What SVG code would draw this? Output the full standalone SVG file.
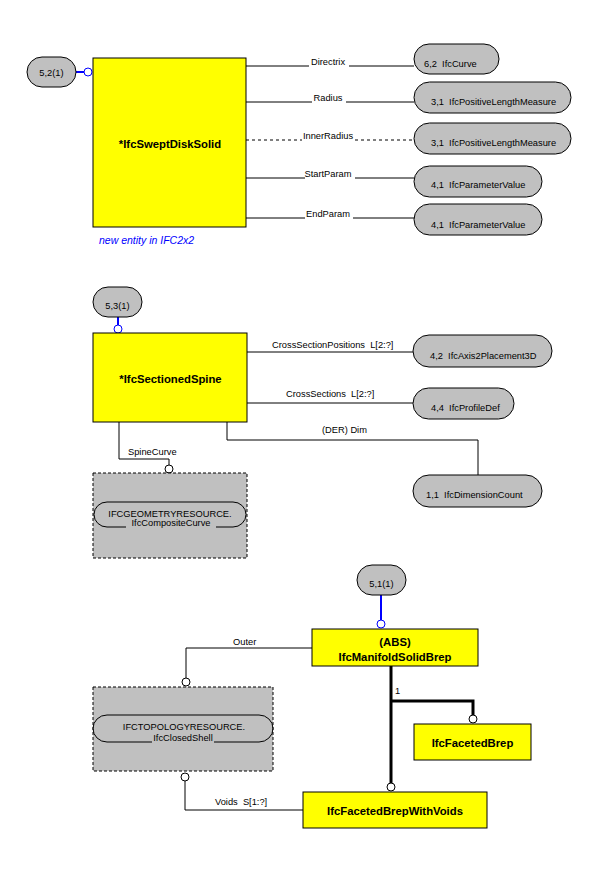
<svg xmlns="http://www.w3.org/2000/svg" width="600" height="888" viewBox="0 0 600 888">
<style>
text{font-family:"Liberation Sans",Arial,sans-serif;font-size:9.3px;fill:#000}
.b{font-weight:bold;font-size:11.3px}
.c{text-anchor:middle}
.pill{fill:#c0c0c0;stroke:#000;stroke-width:1}
.ent{fill:#ffff00;stroke:#000;stroke-width:1}
.ext{fill:#c0c0c0;stroke:#000;stroke-width:1;stroke-dasharray:3,2}
.ln{fill:none;stroke:#000;stroke-width:1}
.dash{stroke-dasharray:3,3}
.thick{fill:none;stroke:#000;stroke-width:3}
.blue{fill:none;stroke:#0000ff;stroke-width:2}
.oc{fill:#fff;stroke:#000;stroke-width:1}
.bc{fill:#fff;stroke:#0000ff;stroke-width:1}
</style>
<rect width="600" height="888" fill="#fff"/>

<g id="connectors">
  <!-- section 1 -->
  <line class="blue" x1="76" y1="72" x2="84" y2="72"/>
  <circle class="bc" cx="88" cy="72" r="4"/>
  <path class="ln" d="M246 66H309M349 66H414"/>
  <text x="328" y="65" class="c">Directrix</text>
  <path class="ln" d="M246 102H312M346 102H414"/>
  <text x="328" y="101" class="c">Radius</text>
  <path class="ln dash" d="M246 140H302M355 140H414"/>
  <text x="328" y="139" class="c">InnerRadius</text>
  <path class="ln" d="M246 178H305M355 178H414"/>
  <text x="328" y="177" class="c">StartParam</text>
  <path class="ln" d="M246 218H305M353 218H414"/>
  <text x="328" y="217" class="c">EndParam</text>

  <!-- section 2 -->
  <line class="blue" x1="118" y1="317" x2="118" y2="325"/>
  <circle class="bc" cx="118" cy="329" r="4"/>
  <path class="ln" d="M247 352H413"/>
  <text x="272" y="348" xml:space="preserve">CrossSectionPositions  L[2:?]</text>
  <path class="ln" d="M247 403H413"/>
  <text x="286" y="397" xml:space="preserve">CrossSections  L[2:?]</text>
  <path class="ln" d="M227 422V440H478V475"/>
  <text x="322" y="433">(DER) Dim</text>
  <path class="ln" d="M119 422V459H169V465"/>
  <circle class="oc" cx="169" cy="469" r="4"/>
  <text x="128" y="455">SpineCurve</text>

  <!-- section 3 -->
  <line class="blue" x1="381" y1="595" x2="381" y2="620"/>
  <circle class="bc" cx="381" cy="624" r="4"/>
  <path class="ln" d="M312 648H186V678"/>
  <circle class="oc" cx="186" cy="682" r="4"/>
  <text x="233" y="645">Outer</text>
  <path class="ln" d="M185 781V810H303"/>
  <circle class="oc" cx="185" cy="777" r="4"/>
  <text x="215" y="805" xml:space="preserve">Voids  S[1:?]</text>
  <path class="thick" d="M391 666V783"/>
  <path class="thick" d="M391 701H473V715"/>
  <circle class="oc" cx="391" cy="787" r="4"/>
  <circle class="oc" cx="473" cy="719" r="4"/>
  <text x="395" y="694">1</text>
</g>

<!-- section 1 nodes -->
<g id="ref_5_2">
  <rect class="pill" x="27" y="57" width="49" height="30" rx="15" ry="15"/>
  <text x="51.5" y="76" class="c">5,2(1)</text>
</g>
<g id="IfcSweptDiskSolid">
  <rect class="ent" x="93" y="58" width="153" height="169"/>
  <text x="170" y="148" class="b c">*IfcSweptDiskSolid</text>
  <text x="99" y="244" style="font-style:italic;font-size:10.5px;fill:#0000ff">new entity in IFC2x2</text>
</g>
<g id="IfcCurve">
  <rect class="pill" x="414" y="44" width="85" height="30" rx="15" ry="15"/>
  <text x="424" y="67" xml:space="preserve">6,2  IfcCurve</text>
</g>
<g id="IfcPositiveLengthMeasure1">
  <rect class="pill" x="414" y="82" width="157" height="31" rx="15.5" ry="15.5"/>
  <text x="431" y="105" xml:space="preserve">3,1  IfcPositiveLengthMeasure</text>
</g>
<g id="IfcPositiveLengthMeasure2">
  <rect class="pill" x="414" y="123" width="157" height="31" rx="15.5" ry="15.5"/>
  <text x="431" y="146" xml:space="preserve">3,1  IfcPositiveLengthMeasure</text>
</g>
<g id="IfcParameterValue1">
  <rect class="pill" x="414" y="166" width="128" height="31" rx="15.5" ry="15.5"/>
  <text x="431" y="188" xml:space="preserve">4,1  IfcParameterValue</text>
</g>
<g id="IfcParameterValue2">
  <rect class="pill" x="414" y="204" width="128" height="31" rx="15.5" ry="15.5"/>
  <text x="431" y="228" xml:space="preserve">4,1  IfcParameterValue</text>
</g>

<!-- section 2 nodes -->
<g id="ref_5_3">
  <rect class="pill" x="93" y="287" width="49" height="30" rx="15" ry="15"/>
  <text x="117.5" y="309" class="c">5,3(1)</text>
</g>
<g id="IfcSectionedSpine">
  <rect class="ent" x="93" y="333" width="154" height="89"/>
  <text x="170.5" y="383" class="b c">*IfcSectionedSpine</text>
</g>
<g id="IfcAxis2Placement3D">
  <rect class="pill" x="413" y="335" width="139" height="32" rx="16" ry="16"/>
  <text x="430" y="359" xml:space="preserve">4,2  IfcAxis2Placement3D</text>
</g>
<g id="IfcProfileDef">
  <rect class="pill" x="413" y="388" width="101" height="31" rx="15.5" ry="15.5"/>
  <text x="431" y="411" xml:space="preserve">4,4  IfcProfileDef</text>
</g>
<g id="IfcDimensionCount">
  <rect class="pill" x="413" y="475" width="129" height="32" rx="16" ry="16"/>
  <text x="426" y="498" xml:space="preserve">1,1  IfcDimensionCount</text>
</g>
<g id="IfcCompositeCurve">
  <rect class="ext" x="93" y="473" width="154" height="85"/>
  <path class="ln" d="M126 527H107A13 12.5 0 0 1 107 502H233A13 12.5 0 0 1 233 527H216"/>
  <text x="170" y="517" class="c">IFCGEOMETRYRESOURCE.</text>
  <text x="171" y="526" class="c">IfcCompositeCurve</text>
</g>

<!-- section 3 nodes -->
<g id="ref_5_1">
  <rect class="pill" x="357" y="565" width="49" height="30" rx="15" ry="15"/>
  <text x="381.5" y="587" class="c">5,1(1)</text>
</g>
<g id="IfcManifoldSolidBrep">
  <rect class="ent" x="312" y="629" width="166" height="37"/>
  <text x="395" y="646" class="b c">(ABS)</text>
  <text x="395" y="661" class="b c">IfcManifoldSolidBrep</text>
</g>
<g id="IfcClosedShell">
  <rect class="ext" x="93" y="687" width="180" height="84"/>
  <path class="ln" d="M152 742H107A14 13.5 0 0 1 107 715H259A14 13.5 0 0 1 259 742H214"/>
  <text x="184" y="730" class="c">IFCTOPOLOGYRESOURCE.</text>
  <text x="183" y="741" class="c">IfcClosedShell</text>
</g>
<g id="IfcFacetedBrep">
  <rect class="ent" x="414" y="724" width="117" height="36"/>
  <text x="472.5" y="747" class="b c">IfcFacetedBrep</text>
</g>
<g id="IfcFacetedBrepWithVoids">
  <rect class="ent" x="303" y="792" width="184" height="36"/>
  <text x="395" y="815" class="b c">IfcFacetedBrepWithVoids</text>
</g>
</svg>
